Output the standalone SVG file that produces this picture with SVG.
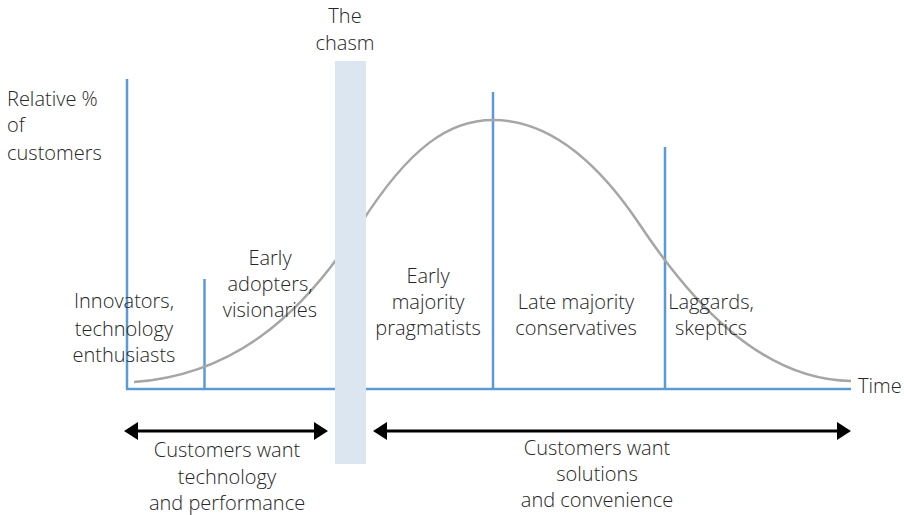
<svg xmlns="http://www.w3.org/2000/svg" width="904" height="515" viewBox="0 0 904 515">
<style>
text{font-family:"Open Sans","Lato","Liberation Sans",sans-serif;font-size:20px;font-weight:300;fill:#262626}
.c{text-anchor:middle}
.ax{stroke:#5b9bd5;stroke-width:2.5;fill:none}
.curve{stroke:#a6a6a6;stroke-width:2.5;fill:none}
.arr{stroke:#000;stroke-width:3}
.head{fill:#000}
</style>
<rect width="904" height="515" fill="#fff"/>
<g id="axes">
<line class="ax" x1="127" y1="79" x2="127" y2="389"/>
<line class="ax" x1="126" y1="389" x2="851" y2="389"/>
<line class="ax" x1="204.5" y1="279" x2="204.5" y2="389"/>
<line class="ax" x1="493" y1="92" x2="493" y2="389"/>
<line class="ax" x1="665" y1="147" x2="665" y2="389"/>
</g>
<g id="curve">
<path class="curve" d="M134,382 C230,375 300,320 360,225 C410,146 450,120 493,120 C540,120 590,150 640,225 C690,300 760,380 851,381"/>
</g>
<g id="chasm">
<rect x="335" y="61" width="31" height="403" fill="#dce6f1"/>
<text class="c" x="345" y="23">The</text>
<text class="c" x="345" y="50">chasm</text>
</g>
<g id="ylabel">
<text x="7" y="106">Relative %</text>
<text x="7" y="132">of</text>
<text x="7" y="160">customers</text>
</g>
<g id="innovators">
<text class="c" x="124" y="308">Innovators,</text>
<text class="c" x="124" y="336">technology</text>
<text class="c" x="124" y="362">enthusiasts</text>
</g>
<g id="early-adopters">
<text class="c" x="270" y="265">Early</text>
<text class="c" x="270" y="291">adopters,</text>
<text class="c" x="270" y="317">visionaries</text>
</g>
<g id="early-majority">
<text class="c" x="428" y="283">Early</text>
<text class="c" x="428" y="309">majority</text>
<text class="c" x="428" y="335">pragmatists</text>
</g>
<g id="late-majority">
<text class="c" x="576" y="309">Late majority</text>
<text class="c" x="576" y="335">conservatives</text>
</g>
<g id="laggards">
<text class="c" x="711" y="309">Laggards,</text>
<text class="c" x="711" y="335">skeptics</text>
</g>
<g id="time">
<text x="858" y="393">Time</text>
</g>
<g id="connectors">
<line class="arr" x1="134" y1="431" x2="318" y2="431"/>
<polygon class="head" points="124,431 138,422 138,440"/>
<polygon class="head" points="328,431 314,422 314,440"/>
<line class="arr" x1="383" y1="431" x2="841" y2="431"/>
<polygon class="head" points="373,431 387,422 387,440"/>
<polygon class="head" points="851,431 837,422 837,440"/>
</g>
<g id="left-need">
<text class="c" x="227" y="457">Customers want</text>
<text class="c" x="227" y="484">technology</text>
<text class="c" x="227" y="510">and performance</text>
</g>
<g id="right-need">
<text class="c" x="597" y="455">Customers want</text>
<text class="c" x="597" y="481">solutions</text>
<text class="c" x="597" y="507">and convenience</text>
</g>
</svg>
